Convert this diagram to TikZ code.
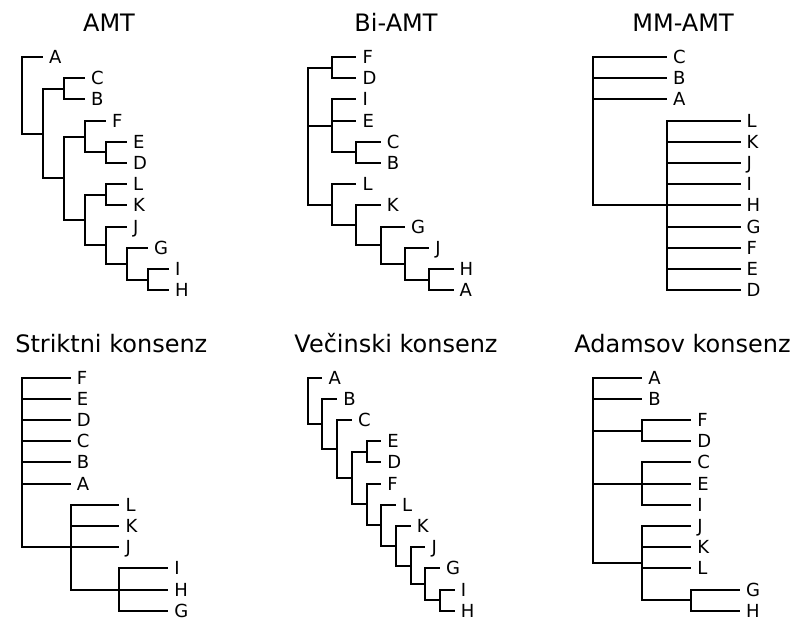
\documentclass[tikz,border=0pt]{standalone}
\usepackage{fontspec}
\setmainfont{DejaVu Sans}
\def\dy{21.2}
\newcommand\usetree[3]{\def\tx{#1}\def\th{#2}\def\ty{#3}}
\newcommand\mkin[3]{\coordinate (#1) at ({\tx+#2*\th},{\ty+#3*\dy});}
\newcommand\mklf[4]{\node[leaf] (#1) at ({\tx+#2*\th},{\ty+#3*\dy}) {#4};}
\begin{document}
\begin{tikzpicture}[x=1pt,y=-1pt,
  br/.style={line width=2pt},
  leaf/.style={anchor=west, inner xsep=6pt, inner ysep=0pt, text height=13.1pt, text depth=0pt, font=\fontsize{18}{18}\selectfont},
  ttl/.style={anchor=base, inner sep=0pt, font=\fontsize{24}{24}\selectfont}]
\fill[white] (0,0) rectangle (797,619);
\useasboundingbox (0,0) rectangle (797,619);

% titles
\node[ttl] (t1) at (109,31.7) {AMT};
\node[ttl] (t2) at (396,31.7) {Bi-AMT};
\node[ttl] (t3) at (683,31.7) {MM-AMT};
\node[ttl] (t4) at (111.3,352.5) {Striktni konsenz};
\node[ttl] (t5) at (396,352.5) {Večinski konsenz};
\node[ttl] (t6) at (682.5,352.5) {Adamsov konsenz};

% ---------- AMT ----------
\usetree{22}{21}{57}
\mkin{a-root}{0}{1.8047}
\mkin{a-r1}{1}{3.609375}
\mkin{a-cb}{2}{1.5}
\mkin{a-r2}{2}{5.71875}
\mkin{a-fed}{3}{3.75}
\mkin{a-ed}{4}{4.5}
\mkin{a-lkj}{3}{7.6875}
\mkin{a-lk}{4}{6.5}
\mkin{a-jgih}{4}{8.875}
\mkin{a-gih}{5}{9.75}
\mkin{a-ih}{6}{10.5}
\mklf{a-A}{1}{0}{A}
\mklf{a-C}{3}{1}{C}
\mklf{a-B}{3}{2}{B}
\mklf{a-F}{4}{3}{F}
\mklf{a-E}{5}{4}{E}
\mklf{a-D}{5}{5}{D}
\mklf{a-L}{5}{6}{L}
\mklf{a-K}{5}{7}{K}
\mklf{a-J}{5}{8}{J}
\mklf{a-G}{6}{9}{G}
\mklf{a-I}{7}{10}{I}
\mklf{a-H}{7}{11}{H}
\foreach \src/\dst in {a-root/a-A.west, a-root/a-r1, a-r1/a-cb, a-r1/a-r2,
  a-cb/a-C.west, a-cb/a-B.west, a-r2/a-fed, a-r2/a-lkj, a-fed/a-F.west, a-fed/a-ed,
  a-ed/a-E.west, a-ed/a-D.west, a-lkj/a-lk, a-lkj/a-jgih, a-lk/a-L.west, a-lk/a-K.west,
  a-jgih/a-J.west, a-jgih/a-gih, a-gih/a-G.west, a-gih/a-ih, a-ih/a-I.west, a-ih/a-H.west}
  \draw[br] (\src) |- (\dst);

% ---------- Bi-AMT ----------
\usetree{307.7}{24.3}{57}
\mkin{b-root}{0}{3.734}
\mkin{b-fd}{1}{0.5}
\mkin{b-iecb}{1}{3.25}
\mkin{b-cb}{2}{4.5}
\mkin{b-lk}{1}{6.96875}
\mkin{b-kg}{2}{7.9375}
\mkin{b-gjha}{3}{8.875}
\mkin{b-jha}{4}{9.75}
\mkin{b-ha}{5}{10.5}
\mklf{b-F}{2}{0}{F}
\mklf{b-D}{2}{1}{D}
\mklf{b-I}{2}{2}{I}
\mklf{b-E}{2}{3}{E}
\mklf{b-C}{3}{4}{C}
\mklf{b-B}{3}{5}{B}
\mklf{b-L}{2}{6}{L}
\mklf{b-K}{3}{7}{K}
\mklf{b-G}{4}{8}{G}
\mklf{b-J}{5}{9}{J}
\mklf{b-H}{6}{10}{H}
\mklf{b-A}{6}{11}{A}
\foreach \src/\dst in {b-root/b-fd, b-root/b-iecb, b-root/b-lk,
  b-fd/b-F.west, b-fd/b-D.west, b-iecb/b-I.west, b-iecb/b-E.west, b-iecb/b-cb,
  b-cb/b-C.west, b-cb/b-B.west, b-lk/b-L.west, b-lk/b-kg, b-kg/b-K.west, b-kg/b-gjha,
  b-gjha/b-G.west, b-gjha/b-jha, b-jha/b-J.west, b-jha/b-ha, b-ha/b-H.west, b-ha/b-A.west}
  \draw[br] (\src) |- (\dst);

% ---------- MM-AMT ----------
\usetree{593.3}{73.6}{57}
\mkin{c-root}{0}{3.5}
\mkin{c-big}{1}{7}
\mklf{c-C}{1}{0}{C}
\mklf{c-B}{1}{1}{B}
\mklf{c-A}{1}{2}{A}
\mklf{c-L}{2}{3}{L}
\mklf{c-K}{2}{4}{K}
\mklf{c-J}{2}{5}{J}
\mklf{c-I}{2}{6}{I}
\mklf{c-H}{2}{7}{H}
\mklf{c-G}{2}{8}{G}
\mklf{c-F}{2}{9}{F}
\mklf{c-E}{2}{10}{E}
\mklf{c-D}{2}{11}{D}
\foreach \src/\dst in {c-root/c-C.west, c-root/c-B.west, c-root/c-A.west, c-root/c-big,
  c-big/c-L.west, c-big/c-K.west, c-big/c-J.west, c-big/c-I.west, c-big/c-H.west,
  c-big/c-G.west, c-big/c-F.west, c-big/c-E.west, c-big/c-D.west}
  \draw[br] (\src) |- (\dst);

% ---------- Striktni konsenz ----------
\usetree{22}{48.7}{377.6}
\mkin{d-root}{0}{4}
\mkin{d-lkj}{1}{8}
\mkin{d-ihg}{2}{10}
\mklf{d-F}{1}{0}{F}
\mklf{d-E}{1}{1}{E}
\mklf{d-D}{1}{2}{D}
\mklf{d-C}{1}{3}{C}
\mklf{d-B}{1}{4}{B}
\mklf{d-A}{1}{5}{A}
\mklf{d-L}{2}{6}{L}
\mklf{d-K}{2}{7}{K}
\mklf{d-J}{2}{8}{J}
\mklf{d-I}{3}{9}{I}
\mklf{d-H}{3}{10}{H}
\mklf{d-G}{3}{11}{G}
\foreach \src/\dst in {d-root/d-F.west, d-root/d-E.west, d-root/d-D.west, d-root/d-C.west,
  d-root/d-B.west, d-root/d-A.west, d-root/d-lkj,
  d-lkj/d-L.west, d-lkj/d-K.west, d-lkj/d-J.west, d-lkj/d-ihg,
  d-ihg/d-I.west, d-ihg/d-H.west, d-ihg/d-G.west}
  \draw[br] (\src) |- (\dst);

% ---------- Vecinski konsenz ----------
\usetree{307.7}{14.7}{377.6}
\mkin{e-root}{0}{1.093}
\mkin{e-b}{1}{2.186}
\mkin{e-c}{2}{3.371}
\mkin{e-x}{3}{4.742}
\mkin{e-ed}{4}{3.5}
\mkin{e-f}{4}{5.984}
\mkin{e-l}{5}{6.96875}
\mkin{e-k}{6}{7.9375}
\mkin{e-j}{7}{8.875}
\mkin{e-g}{8}{9.75}
\mkin{e-ih}{9}{10.5}
\mklf{e-A}{1}{0}{A}
\mklf{e-B}{2}{1}{B}
\mklf{e-C}{3}{2}{C}
\mklf{e-E}{5}{3}{E}
\mklf{e-D}{5}{4}{D}
\mklf{e-F}{5}{5}{F}
\mklf{e-L}{6}{6}{L}
\mklf{e-K}{7}{7}{K}
\mklf{e-J}{8}{8}{J}
\mklf{e-G}{9}{9}{G}
\mklf{e-I}{10}{10}{I}
\mklf{e-H}{10}{11}{H}
\foreach \src/\dst in {e-root/e-A.west, e-root/e-b, e-b/e-B.west, e-b/e-c,
  e-c/e-C.west, e-c/e-x, e-x/e-ed, e-x/e-f, e-ed/e-E.west, e-ed/e-D.west,
  e-f/e-F.west, e-f/e-l, e-l/e-L.west, e-l/e-k, e-k/e-K.west, e-k/e-j,
  e-j/e-J.west, e-j/e-g, e-g/e-G.west, e-g/e-ih, e-ih/e-I.west, e-ih/e-H.west}
  \draw[br] (\src) |- (\dst);

% ---------- Adamsov konsenz ----------
\usetree{593.3}{48.9}{377.6}
\mkin{f-root}{0}{4.375}
\mkin{f-fd}{1}{2.5}
\mkin{f-cei}{1}{5}
\mkin{f-jkl}{1}{8.75}
\mkin{f-gh}{2}{10.5}
\mklf{f-A}{1}{0}{A}
\mklf{f-B}{1}{1}{B}
\mklf{f-F}{2}{2}{F}
\mklf{f-D}{2}{3}{D}
\mklf{f-C}{2}{4}{C}
\mklf{f-E}{2}{5}{E}
\mklf{f-I}{2}{6}{I}
\mklf{f-J}{2}{7}{J}
\mklf{f-K}{2}{8}{K}
\mklf{f-L}{2}{9}{L}
\mklf{f-G}{3}{10}{G}
\mklf{f-H}{3}{11}{H}
\foreach \src/\dst in {f-root/f-A.west, f-root/f-B.west, f-root/f-fd, f-root/f-cei, f-root/f-jkl,
  f-fd/f-F.west, f-fd/f-D.west, f-cei/f-C.west, f-cei/f-E.west, f-cei/f-I.west,
  f-jkl/f-J.west, f-jkl/f-K.west, f-jkl/f-L.west, f-jkl/f-gh,
  f-gh/f-G.west, f-gh/f-H.west}
  \draw[br] (\src) |- (\dst);
\end{tikzpicture}
\end{document}
